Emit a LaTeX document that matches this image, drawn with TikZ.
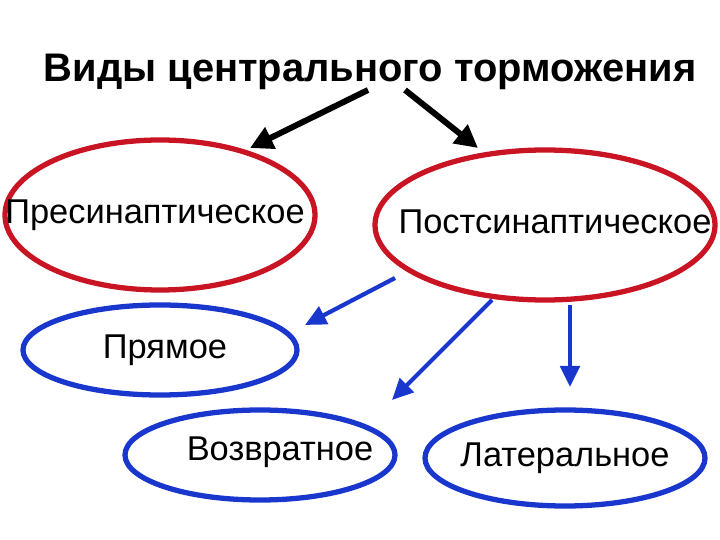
\documentclass[tikz,border=0pt]{standalone}
\usepackage{fontspec}
\setmainfont{Liberation Sans}
\usetikzlibrary{arrows.meta}
\definecolor{rr}{RGB}{200,20,35}
\definecolor{bb}{RGB}{25,55,205}
\begin{document}
\begin{tikzpicture}[x=0.02cm,y=-0.02cm,
 ell/.style={draw, line width=3pt},
 lab/.style={font=\fontsize{19.6}{23}\selectfont},
 blk/.style={-{Triangle[length=13pt,width=13pt]}, line width=3.4pt},
 blu/.style={-{Triangle[length=12pt,width=11pt]}, line width=2.4pt, bb}]
\useasboundingbox (0,0) rectangle (720,540);
\node[font=\fontsize{22.7}{27}\selectfont\bfseries] (t) at (370,72) {Виды центрального торможения};
\draw[ell,rr] (160,215) ellipse [x radius=155, y radius=75];
\node[lab] (pre) at (155,215) {Пресинаптическое};
\draw[ell,rr] (545,225) ellipse [x radius=170, y radius=75];
\node[lab] (post) at (555,222) {Постсинаптическое};
\draw[ell,bb] (160,350) ellipse [x radius=137, y radius=45];
\node[lab] (pr) at (165,350) {Прямое};
\draw[ell,bb] (260,455) ellipse [x radius=135, y radius=45];
\node[lab] (voz) at (280,452) {Возвратное};
\draw[ell,bb] (565,458) ellipse [x radius=140, y radius=48];
\node[lab] (lat) at (565,458) {Латеральное};
\coordinate (a1) at (368,90); \coordinate (a2) at (250,148);
\coordinate (b1) at (405,90); \coordinate (b2) at (478,148);
\draw[blk] (a1) -- (a2);
\draw[blk] (b1) -- (b2);
\coordinate (c1) at (395,278); \coordinate (c2) at (305,325);
\coordinate (d1) at (492,300); \coordinate (d2) at (392,400);
\coordinate (e1) at (570,305); \coordinate (e2) at (570,387);
\draw[blu] (c1) -- (c2);
\draw[blu] (d1) -- (d2);
\draw[blu] (e1) -- (e2);
\end{tikzpicture}
\end{document}
